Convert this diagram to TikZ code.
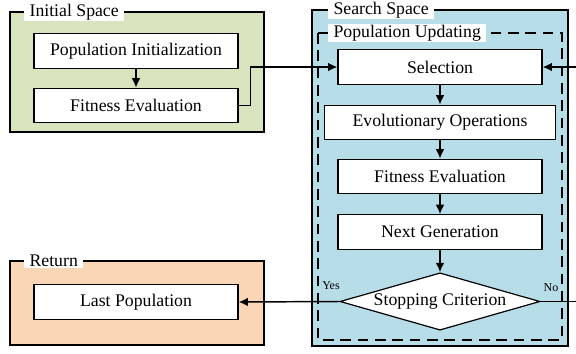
\documentclass[tikz,border=0pt]{standalone}
\usepackage{fontspec}
\setmainfont{Liberation Serif}
\newfontfamily\diagfont{Liberation Serif}
\usetikzlibrary{arrows.meta,shapes.geometric}
\definecolor{initgreen}{RGB}{215,228,189}
\definecolor{searchblue}{RGB}{183,221,232}
\definecolor{returnpeach}{RGB}{251,214,182}
\tikzset{
  stepbox/.style={draw,fill=white,line width=0.9pt,minimum width=153pt,minimum height=26pt,inner sep=1pt,font=\diagfont\fontsize{13.3}{15}\selectfont},
  grouptitle/.style={fill=white,inner xsep=4pt,inner ysep=1pt,anchor=west,font=\diagfont\fontsize{13.3}{15}\selectfont},
  flow/.style={-{Latex[length=7pt,width=6.5pt]},line width=1.1pt},
}
\begin{document}
\begin{tikzpicture}[x=0.75pt,y=-0.75pt]
	\useasboundingbox (0,0) rectangle (576,354);

	% initial space
	\draw[fill=initgreen,line width=1.1pt] (10,12) rectangle (264,132);
	\node[grouptitle] (initT) at (24,12) {Initial Space};
	\node[stepbox] (popinit) at (136,51) {Population Initialization};
	\node[stepbox] (fiteval) at (136,105.5) {Fitness Evaluation};
	\draw[flow] (popinit) -- (fiteval);

	% search space
	\draw[fill=searchblue,line width=1.1pt] (312,10) rectangle (568,346);
	\node[grouptitle] (searchT) at (328,10) {Search Space};
	\draw[line width=0.9pt,dash pattern=on 8pt off 5pt] (318,33) rectangle (562,340);
	\node[grouptitle] (updT) at (328,33) {Population Updating};

	\node[stepbox] (sel) at (440,67) {Selection};
	\node[stepbox,minimum width=173pt] (evo) at (440,122.5) {Evolutionary Operations};
	\node[stepbox] (fiteval2) at (440,176.5) {Fitness Evaluation};
	\node[stepbox] (nextgen) at (440,232) {Next Generation};
	\node[draw,fill=white,line width=0.9pt,shape=diamond,aspect=3.5,minimum width=150pt,minimum height=43pt,inner sep=0pt,font=\diagfont\fontsize{13.3}{15}\selectfont] (stop) at (440,301.5) {Stopping Criterion};

	\draw[flow] (sel) -- (evo);
	\draw[flow] (evo) -- (fiteval2);
	\draw[flow] (fiteval2) -- (nextgen);
	\draw[flow] (nextgen) -- (stop);

	% return
	\draw[fill=returnpeach,line width=1.1pt] (10,261) rectangle (264,345);
	\node[grouptitle] (retT) at (24,261) {Return};
	\node[stepbox] (lastpop) at (136,302) {Last Population};

	% connections
	\draw[flow] (fiteval.east) -- ++(12,0) |- (sel.west);
	\draw[flow] (stop.west) -- (lastpop.east);
	\coordinate (noend) at (576,301.5);
	\coordinate (selin) at (576,67);
	\draw[line width=1.1pt] (stop.east) -- (noend);
	\draw[flow] (selin) -- (sel.east);
	\node[font=\diagfont\fontsize{9}{10}\selectfont,inner sep=0pt] (yes) at (331,286) {Yes};
	\node[font=\diagfont\fontsize{9}{10}\selectfont,inner sep=0pt] (no) at (551,288) {No};

\end{tikzpicture}
\end{document}
